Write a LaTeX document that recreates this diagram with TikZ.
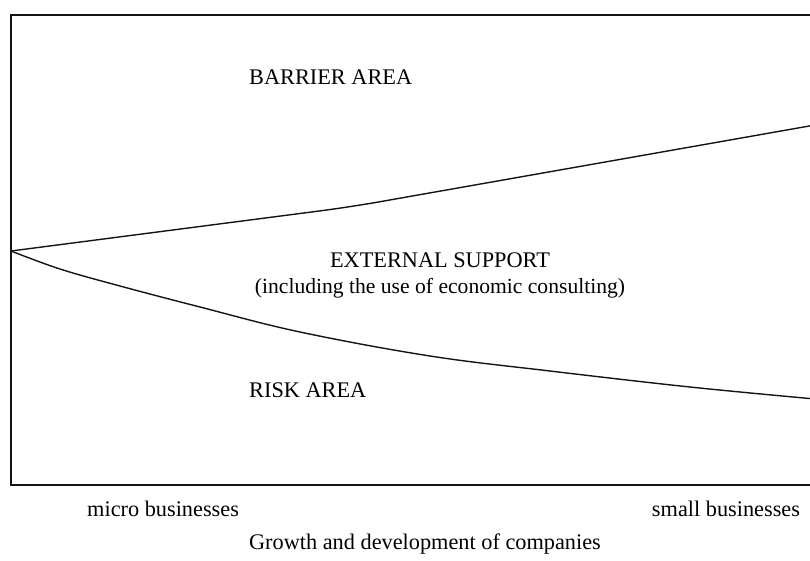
\documentclass[tikz,border=0pt]{standalone}
\usepackage{fontspec}
\setmainfont{Liberation Serif}
\usetikzlibrary{calc}
\definecolor{lineblack}{RGB}{20, 20, 20}

\tikzset{
    frameline/.style={draw=lineblack, line width=1.3pt},
    curveline/.style={draw=lineblack, line width=1.4pt},
    arealabel/.style={font=\fontsize{22.3}{27}\selectfont, inner sep=0pt, anchor=base west},
    axislabel/.style={font=\fontsize{22.3}{27}\selectfont, inner sep=0pt, anchor=base}
}

\begin{document}
\begin{tikzpicture}[x=1pt, y=-1pt]
\useasboundingbox (0,0) rectangle (810,560);

% === Marco (abierto a la derecha) ===
\coordinate (topright) at (815,15);
\coordinate (topleft) at (11,15);
\coordinate (botleft) at (11,485);
\coordinate (botright) at (815,485);
\draw[frameline] (topright) -- (topleft) -- (botleft) -- (botright);

% Punto de partida de las dos curvas
\coordinate (fork) at (11,251);

% === Curva superior: limite de la zona de barreras ===
\coordinate (upperbend) at (350,207);
\coordinate (upperend) at (815,125);
\draw[curveline, rounded corners=30pt] (fork) -- (upperbend) -- (upperend);

% === Curva inferior: limite de la zona de riesgo ===
\draw[curveline] plot[smooth, tension=0.6] coordinates {
    (fork) (60,269) (120,286) (200,307) (300,332) (430,356)
    (550,371) (690,387) (815,399)};

% Etiquetas de las zonas
\node[arealabel] (barrier) at (249,84) {BARRIER AREA};
\node[arealabel] (risk) at (249,397) {RISK AREA};
\node[axislabel] (support) at (440,267) {EXTERNAL SUPPORT};
\node[axislabel, font=\fontsize{21.6}{27}\selectfont] (consulting) at (440,293)
    {(including the use of economic consulting)};

% Etiquetas del eje horizontal
\node[arealabel] (micro) at (87,516) {micro businesses};
\node[axislabel] (small) at (726,516) {small businesses};
\node[axislabel] (growth) at (425,549) {Growth and development of companies};

\end{tikzpicture}
\end{document}
